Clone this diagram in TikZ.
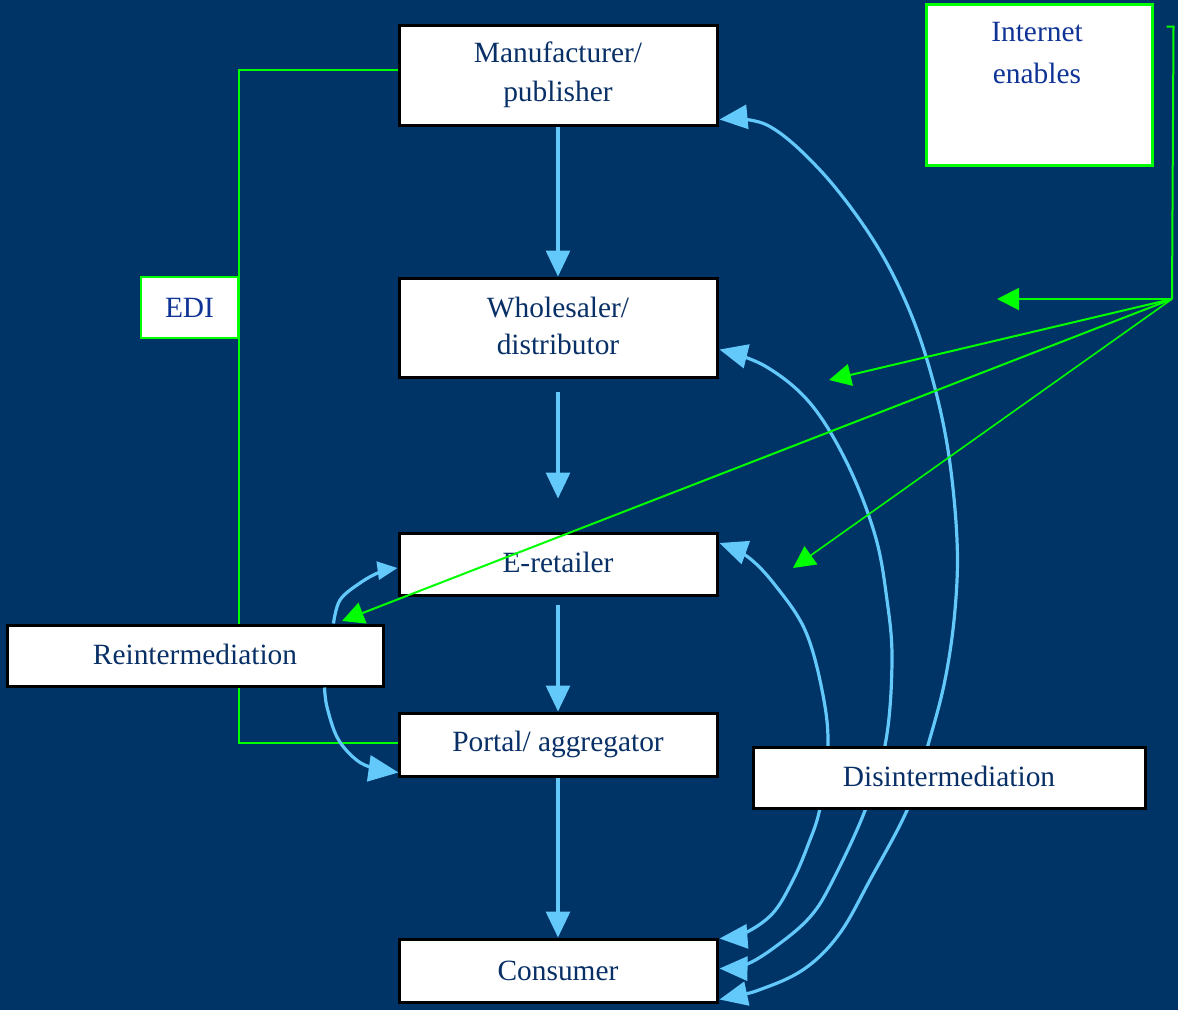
\documentclass[tikz,border=0pt]{standalone}
\usepackage{fontspec}
\setmainfont{Liberation Serif}
\usetikzlibrary{arrows.meta,calc}
\definecolor{bg}{RGB}{0,51,102}
\definecolor{lblue}{RGB}{99,200,250}
\definecolor{lgreen}{RGB}{0,255,0}
\definecolor{navytext}{RGB}{8,48,102}
\definecolor{royal}{RGB}{16,52,150}
\begin{document}
\begin{tikzpicture}[x=1pt,y=-1pt,
  boxtxt/.style={font=\fontsize{29.4}{39}\selectfont},
  box/.style={boxtxt,draw=black,line width=3pt,fill=white,text=navytext,align=center,inner sep=0pt},
  gbox/.style={boxtxt,draw=lgreen,line width=2.5pt,fill=white,text=royal,align=center,inner sep=0pt},
  flow/.style={draw=lblue,line width=3.2pt,-{Triangle[width=24pt,length=26pt]}},
  curve/.style={draw=lblue,line width=3.2pt,{Triangle[width=24pt,length=28pt]}-{Triangle[width=24pt,length=28pt]}},
  rcurve/.style={draw=lblue,line width=3.2pt},
  gline/.style={draw=lgreen,line width=2pt},
  garrow/.style={draw=lgreen,line width=2pt,-{Triangle[width=22pt,length=22pt]}}
]
\fill[bg] (0,0) rectangle (1178,1010);
\useasboundingbox (0,0) rectangle (1178,1010);

% boxes
\node[box,minimum width=318pt,minimum height=100pt] (manu) at (558,75) {Manufacturer/\\publisher};
\node[box,minimum width=318pt,minimum height=99pt,font=\fontsize{29.4}{37.5}\selectfont] (whol) at (558,327.5) {\raisebox{3pt}{Wholesaler/}\\\raisebox{3pt}{distributor}};
\node[box,minimum width=318pt,minimum height=62pt] (eret) at (558,564) {\raisebox{2.5pt}{E-retailer}};
\node[box,minimum width=318pt,minimum height=63pt] (port) at (558,744.5) {\raisebox{-1.5pt}{Portal/ aggregator}};
\node[box,minimum width=318pt,minimum height=63pt] (cons) at (558,970.5) {Consumer};

% EDI bracket
\node[gbox,minimum width=97pt,minimum height=61pt] (edi) at (189.5,307.5) {\raisebox{-1.5pt}{EDI}};
\draw[gline] ($(manu.west)+(0,-5)$) -| (edi.east) |- ($(port.west)+(0,-2)$);

\node[box,minimum width=376pt,minimum height=61pt] (rein) at (195,655.5) {\raisebox{2pt}{Reintermediation}};

% Internet box
\node[gbox,line width=3pt,minimum width=226pt,minimum height=161pt] (inet) at (1039,84.5) {};
\node[boxtxt,text=royal,align=center,font=\fontsize{29.4}{42}\selectfont] (inettxt) at (1037,53) {Internet\\enables};

% straight flow arrows
\draw[flow] (manu.south) -- (whol.north);
\draw[flow] ($(whol.south)+(0,13)$) -- ($(eret.north)+(0,-33)$);
\draw[flow] ($(eret.south)+(0,8)$) -- (port.north);
\draw[flow] (port.south) -- (cons.north);

% reintermediation curves
\draw[rcurve,-{Triangle[width=18pt,length=20pt]}] plot[smooth,tension=0.6] coordinates
  {($(rein.north east)+(-51,0)$) (340,600) (360,583) (380,572) ($(eret.west)+(0,4)$)};
\draw[rcurve,-{Triangle[width=26pt,length=30pt]}] plot[smooth,tension=0.6] coordinates
  {($(rein.south east)+(-60,0)$) (327,707) (337,737) (353,757) (370,767) ($(port.south west)+(1,-5)$)};

% disintermediation curves
\draw[curve] plot[smooth,tension=0.6] coordinates
  {($(cons.south east)+(1,-4)$) (767,987) (807,967) (840,933) (870,880) (908,808)
   (928,745) (945,680) (955,610) (957,540) (948,450) (930,370) (905,300)
   (870,235) (820,170) (767,125) ($(manu.south east)+(1,-7)$)};
\draw[curve] plot[smooth,tension=0.6] coordinates
  {($(cons.east)+(1,-2)$) (745,965) (775,947) (810,917) (833,880) (866,808)
   (886,740) (892,660) (887,600) (875,535) (847,463) (810,403)
   (765,366) ($(whol.east)+(1,22)$)};
\draw[curve] plot[smooth,tension=0.6] coordinates
  {($(cons.north east)+(1,1)$) (745,933) (773,913) (793,880) (808,845) (820,808)
   (828,745) (822,690) (805,630) (775,585) (748,557) ($(eret.east)+(1,-21)$)};

\node[box,minimum width=392pt,minimum height=61pt] (disi) at (949,777.5) {\raisebox{2pt}{Disintermediation}};

% Internet fan
\coordinate (hub) at (1172,299);
\coordinate (t1) at (997,299);
\coordinate (t2) at (829,380);
\coordinate (t3) at (342,621);
\coordinate (t4) at (793,568);
\draw[gline] ($(inet.north east)+(13,24)$) -- ++(7,0) -- (hub);
\draw[garrow] (hub) -- (t1);
\draw[garrow] (hub) -- (t2);
\draw[garrow] (hub) -- (t3);
\draw[garrow,line width=1.6pt] (hub) -- (t4);
\end{tikzpicture}
\end{document}
